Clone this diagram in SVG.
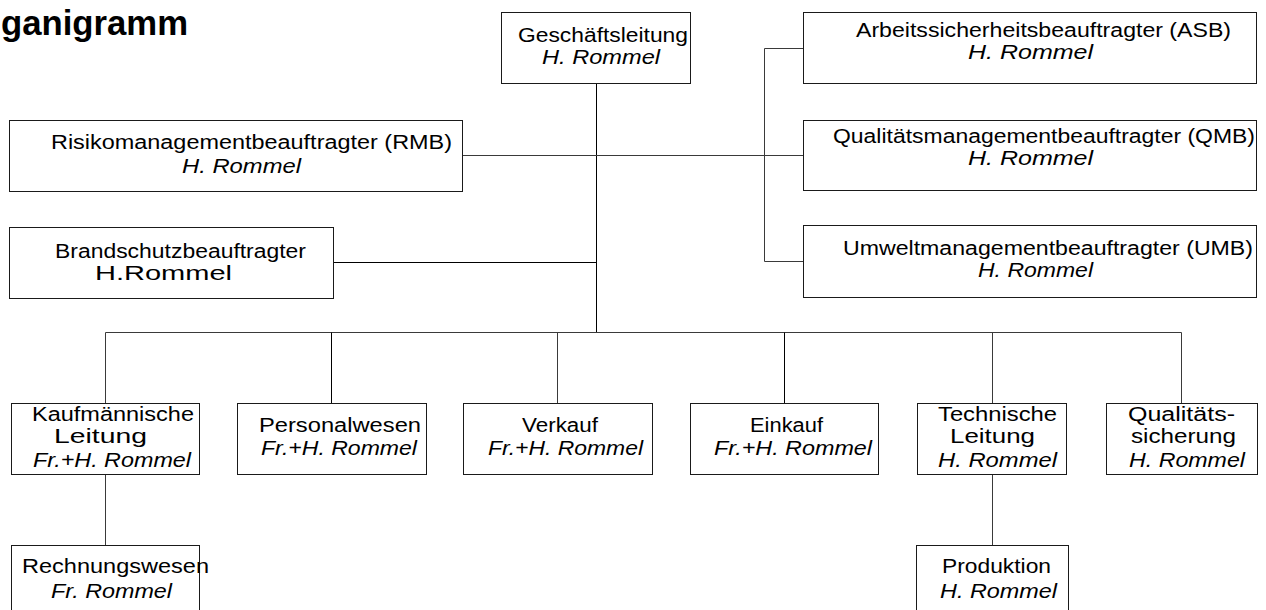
<svg xmlns="http://www.w3.org/2000/svg" width="1266" height="610" viewBox="0 0 1266 610">
<style>
.box{fill:#fff;stroke:#1a1a1a;stroke-width:1}
.t{font-family:"Liberation Sans",Arial,sans-serif;font-size:20px;fill:#000}
.i{font-style:italic}
.title{font-family:"Liberation Sans",Arial,sans-serif;font-size:34.5px;font-weight:bold;fill:#000}
.c line{stroke:#3a3a3a;stroke-width:1}
.c line.k{stroke:#000}
</style>
<rect width="1266" height="610" fill="#fff"/>
<text class="title" x="1" y="35" textLength="187" lengthAdjust="spacingAndGlyphs">ganigramm</text>
<g class="c" id="connectors">
<line class="k" x1="596.5" y1="83" x2="596.5" y2="333"/>
<line x1="462" y1="155.5" x2="803" y2="155.5"/>
<line class="k" x1="333" y1="262.5" x2="596.5" y2="262.5"/>
<line x1="764.5" y1="48.5" x2="764.5" y2="261.5"/>
<line x1="764.5" y1="48.5" x2="803" y2="48.5"/>
<line x1="764.5" y1="261.5" x2="803" y2="261.5"/>
<line x1="105.5" y1="332.5" x2="1181.5" y2="332.5"/>
<line x1="105.5" y1="332.5" x2="105.5" y2="403"/>
<line class="k" x1="331.5" y1="332.5" x2="331.5" y2="403"/>
<line x1="557.5" y1="332.5" x2="557.5" y2="403"/>
<line class="k" x1="784.5" y1="332.5" x2="784.5" y2="403"/>
<line x1="992.5" y1="332.5" x2="992.5" y2="403"/>
<line x1="1181.5" y1="332.5" x2="1181.5" y2="403"/>
<line x1="105.5" y1="474" x2="105.5" y2="545"/>
<line x1="992.5" y1="474" x2="992.5" y2="545"/>
</g>
<g id="geschaeftsleitung">
<rect class="box" x="501.5" y="12.5" width="189" height="71"/>
<text class="t" x="518" y="42" textLength="170" lengthAdjust="spacingAndGlyphs">Geschäftsleitung</text>
<text class="t i" x="542" y="64" textLength="118" lengthAdjust="spacingAndGlyphs">H. Rommel</text>
</g>
<g id="asb">
<rect class="box" x="803.5" y="12.5" width="453" height="71"/>
<text class="t" x="856" y="37" textLength="375" lengthAdjust="spacingAndGlyphs">Arbeitssicherheitsbeauftragter (ASB)</text>
<text class="t i" x="968" y="59" textLength="125" lengthAdjust="spacingAndGlyphs">H. Rommel</text>
</g>
<g id="qmb">
<rect class="box" x="803.5" y="120.5" width="453" height="70"/>
<text class="t" x="833" y="143" textLength="422" lengthAdjust="spacingAndGlyphs">Qualitätsmanagementbeauftragter (QMB)</text>
<text class="t i" x="968" y="165" textLength="125" lengthAdjust="spacingAndGlyphs">H. Rommel</text>
</g>
<g id="umb">
<rect class="box" x="803.5" y="225.5" width="453" height="72"/>
<text class="t" x="843" y="255" textLength="410" lengthAdjust="spacingAndGlyphs">Umweltmanagementbeauftragter (UMB)</text>
<text class="t i" x="978" y="277" textLength="115" lengthAdjust="spacingAndGlyphs">H. Rommel</text>
</g>
<g id="rmb">
<rect class="box" x="9.5" y="120.5" width="453" height="71"/>
<text class="t" x="51" y="149" textLength="401" lengthAdjust="spacingAndGlyphs">Risikomanagementbeauftragter (RMB)</text>
<text class="t i" x="182" y="173" textLength="119" lengthAdjust="spacingAndGlyphs">H. Rommel</text>
</g>
<g id="brandschutz">
<rect class="box" x="9.5" y="227.5" width="324" height="71"/>
<text class="t" x="55" y="258" textLength="251" lengthAdjust="spacingAndGlyphs">Brandschutzbeauftragter</text>
<text class="t" x="95" y="280" textLength="137" lengthAdjust="spacingAndGlyphs">H.Rommel</text>
</g>
<g id="kaufmaennisch">
<rect class="box" x="11.5" y="403.5" width="188" height="71"/>
<text class="t" x="32" y="421" textLength="162" lengthAdjust="spacingAndGlyphs">Kaufmännische</text>
<text class="t" x="54" y="443" textLength="93" lengthAdjust="spacingAndGlyphs">Leitung</text>
<text class="t i" x="33" y="467" textLength="158" lengthAdjust="spacingAndGlyphs">Fr.+H. Rommel</text>
</g>
<g id="personalwesen">
<rect class="box" x="237.5" y="403.5" width="189" height="71"/>
<text class="t" x="259" y="432" textLength="162" lengthAdjust="spacingAndGlyphs">Personalwesen</text>
<text class="t i" x="261" y="455" textLength="156" lengthAdjust="spacingAndGlyphs">Fr.+H. Rommel</text>
</g>
<g id="verkauf">
<rect class="box" x="463.5" y="403.5" width="189" height="71"/>
<text class="t" x="522" y="432" textLength="76" lengthAdjust="spacingAndGlyphs">Verkauf</text>
<text class="t i" x="488" y="455" textLength="155" lengthAdjust="spacingAndGlyphs">Fr.+H. Rommel</text>
</g>
<g id="einkauf">
<rect class="box" x="690.5" y="403.5" width="188" height="71"/>
<text class="t" x="750" y="432" textLength="73" lengthAdjust="spacingAndGlyphs">Einkauf</text>
<text class="t i" x="714" y="455" textLength="158" lengthAdjust="spacingAndGlyphs">Fr.+H. Rommel</text>
</g>
<g id="technische">
<rect class="box" x="917.5" y="403.5" width="149" height="71"/>
<text class="t" x="938" y="421" textLength="119" lengthAdjust="spacingAndGlyphs">Technische</text>
<text class="t" x="950" y="443" textLength="85" lengthAdjust="spacingAndGlyphs">Leitung</text>
<text class="t i" x="938" y="467" textLength="119" lengthAdjust="spacingAndGlyphs">H. Rommel</text>
</g>
<g id="qualitaetssicherung">
<rect class="box" x="1106.5" y="403.5" width="151" height="71"/>
<text class="t" x="1128" y="421" textLength="107" lengthAdjust="spacingAndGlyphs">Qualitäts-</text>
<text class="t" x="1131" y="443" textLength="105" lengthAdjust="spacingAndGlyphs">sicherung</text>
<text class="t i" x="1129" y="467" textLength="116" lengthAdjust="spacingAndGlyphs">H. Rommel</text>
</g>
<g id="rechnungswesen">
<rect class="box" x="11.5" y="545.5" width="188" height="80"/>
<text class="t" x="22" y="573" textLength="187" lengthAdjust="spacingAndGlyphs">Rechnungswesen</text>
<text class="t i" x="51" y="598" textLength="121" lengthAdjust="spacingAndGlyphs">Fr. Rommel</text>
</g>
<g id="produktion">
<rect class="box" x="916.5" y="545.5" width="152" height="80"/>
<text class="t" x="942" y="573" textLength="109" lengthAdjust="spacingAndGlyphs">Produktion</text>
<text class="t i" x="940" y="598" textLength="117" lengthAdjust="spacingAndGlyphs">H. Rommel</text>
</g>
</svg>
